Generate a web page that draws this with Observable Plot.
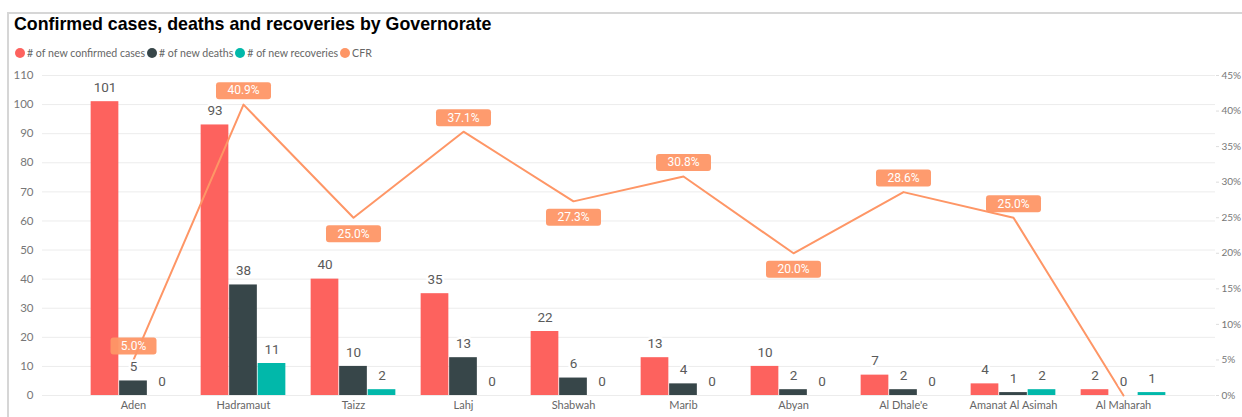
<!DOCTYPE html>
<html>
<head>
<meta charset="utf-8">
<script src="https://cdn.jsdelivr.net/npm/d3@7"></script>
<script src="https://cdn.jsdelivr.net/npm/@observablehq/plot@0.6"></script>
<style>
  html, body { margin: 0; padding: 0; background: #fff; width: 1242px; height: 417px; overflow: hidden; }
  #frame { position: absolute; left: 7px; top: 12px; width: 1235px; height: 405px; border-top: 2px solid #d6d6d6; border-left: 2px solid #d6d6d6; box-sizing: border-box; }
  #title { position: absolute; left: 14px; top: 14px; font-family: "Liberation Sans", Arial, sans-serif; font-weight: 700; font-size: 17.8px; color: #000; white-space: nowrap; }
  #legend { position: absolute; left: 15px; top: 47px; font-family: "Lato", sans-serif; font-size: 10.6px; color: #666; display: flex; align-items: center; white-space: nowrap; }
  #legend .item { display: flex; align-items: center; margin-right: 2px; }
  #legend .sw { width: 10px; height: 10px; border-radius: 50%; margin-right: 2px; display: inline-block; }
  #chart { position: absolute; left: 0; top: 62px; }
</style>
</head>
<body>
<div id="frame"></div>
<div id="title">Confirmed cases, deaths and recoveries by Governorate</div>
<div id="legend"></div>
<div id="chart"></div>
<script>
// ---- data ----
const governorates = ["Aden", "Hadramaut", "Taizz", "Lahj", "Shabwah", "Marib", "Abyan", "Al Dhale'e", "Amanat Al Asimah", "Al Maharah"];
const newCases = [101, 93, 40, 35, 22, 13, 10, 7, 4, 2];
const newDeaths = [5, 38, 10, 13, 6, 4, 2, 2, 1, 0];
const newRecoveries = [0, 11, 2, 0, 0, 0, 0, 0, 2, 1];
const cfr = [0.05, 0.409, 0.25, 0.371, 0.273, 0.308, 0.20, 0.286, 0.25, 0];
const seriesNames = ["# of new confirmed cases", "# of new deaths", "# of new recoveries", "CFR"];
const seriesColors = ["#FD625E", "#374649", "#01B8AA", "#FE9666"];
const leftTicks = [0, 10, 20, 30, 40, 50, 60, 70, 80, 90, 100, 110];
const rightTicksPct = [0, 5, 10, 15, 20, 25, 30, 35, 40, 45];

// ---- legend ----
const legend = document.getElementById("legend");
seriesNames.forEach((name, i) => {
  const it = document.createElement("span");
  it.className = "item";
  it.innerHTML = `<span class="sw" style="background:${seriesColors[i]}"></span>${name}`;
  legend.appendChild(it);
});

// ---- scales / layout ----
const yMax = 110, pctMax = 0.45;
const toLeft = p => p * yMax / pctMax;
const xRange = [74, 1182];
const step = (xRange[1] - xRange[0]) / governorates.length;
const barW = 28.5;
const pad = (step - 3 * barW) / 2;

const rows = governorates.map((g, i) => ({gov: g, cases: newCases[i], deaths: newDeaths[i], rec: newRecoveries[i], cfr: cfr[i], cfrL: toLeft(cfr[i])}));
const keys = ["cases", "deaths", "rec"];

const marks = [
  Plot.gridY(leftTicks, {stroke: "#ececec", strokeOpacity: 1})
];
keys.forEach((k, i) => {
  marks.push(Plot.barY(rows, {x: "gov", y: k, fill: seriesColors[i], insetLeft: pad + i * barW, insetRight: step - pad - (i + 1) * barW}));
});
marks.push(Plot.line(rows, {x: "gov", y: "cfrL", stroke: seriesColors[3], strokeWidth: 2}));
keys.forEach((k, i) => {
  marks.push(Plot.text(rows, {x: "gov", y: k, text: d => String(d[k]), dx: pad + (i + 0.5) * barW - step / 2, dy: -14,
    fill: "#5a5a5a", fontSize: 13.5, fontWeight: 400, fontFamily: "Roboto", letterSpacing: "0.5px", stroke: "white", strokeWidth: 5, paintOrder: "stroke"}));
});

// CFR labels: above unless the point is lower than both neighbours
const below = rows.map((d, i) => i > 0 && i < rows.length - 1 && d.cfr < rows[i - 1].cfr && d.cfr < rows[i + 1].cfr);
const cfrLabels = rows.map((d, i) => ({...d, label: (d.cfr * 100).toFixed(1) + "%", below: below[i]})).filter(d => d.cfr > 0);
const pill = {
  draw(ctx, size) {
    const w = Math.sqrt(size / Math.PI), h = 17, r = 3;
    const x0 = -w / 2, x1 = w / 2, y0 = -h / 2, y1 = h / 2;
    ctx.moveTo(x0 + r, y0);
    ctx.lineTo(x1 - r, y0); ctx.arcTo(x1, y0, x1, y0 + r, r);
    ctx.lineTo(x1, y1 - r); ctx.arcTo(x1, y1, x1 - r, y1, r);
    ctx.lineTo(x0 + r, y1); ctx.arcTo(x0, y1, x0, y1 - r, r);
    ctx.lineTo(x0, y0 + r); ctx.arcTo(x0, y0, x0 + r, y0, r);
    ctx.closePath();
  }
};
[false, true].forEach(b => {
  const sub = cfrLabels.filter(d => d.below === b);
  const dy = b ? 16 : -14;
  marks.push(Plot.dot(sub, {x: "gov", y: "cfrL", r: d => 10 + 9 * d.label.length, symbol: pill, fill: "#FE9666", fillOpacity: 0.95, stroke: "none", dy}));
  marks.push(Plot.text(sub, {x: "gov", y: "cfrL", text: "label", fill: "white", fontSize: 12, fontWeight: 400, fontFamily: "Roboto", letterSpacing: "0.4px", dy}));
});

marks.push(Plot.axisY(leftTicks, {anchor: "left", tickSize: 0, tickPadding: 9, fill: "#777", fontSize: 11.5}));
marks.push(Plot.axisY(rightTicksPct.map(p => toLeft(p / 100)), {anchor: "right", tickSize: 3, stroke: "#dddddd", tickPadding: 3, fill: "#777", fontSize: 10,
  tickFormat: v => Math.round(v / yMax * pctMax * 100) + "%"}));
marks.push(Plot.axisX({tickSize: 0, tickPadding: 6, fill: "#666", fontSize: 11}));

const chart = Plot.plot({
  width: 1242,
  height: 355,
  marginLeft: 42,
  marginRight: 27,
  marginTop: 13,
  marginBottom: 22,
  style: {fontFamily: "Lato, sans-serif", fontSize: "11px", color: "#777", background: "transparent", overflow: "visible"},
  x: {type: "band", domain: governorates, range: xRange, padding: 0, label: null},
  y: {domain: [0, yMax], label: null},
  r: {type: "identity"},
  marks
});
document.getElementById("chart").appendChild(chart);
</script>
</body>
</html>
